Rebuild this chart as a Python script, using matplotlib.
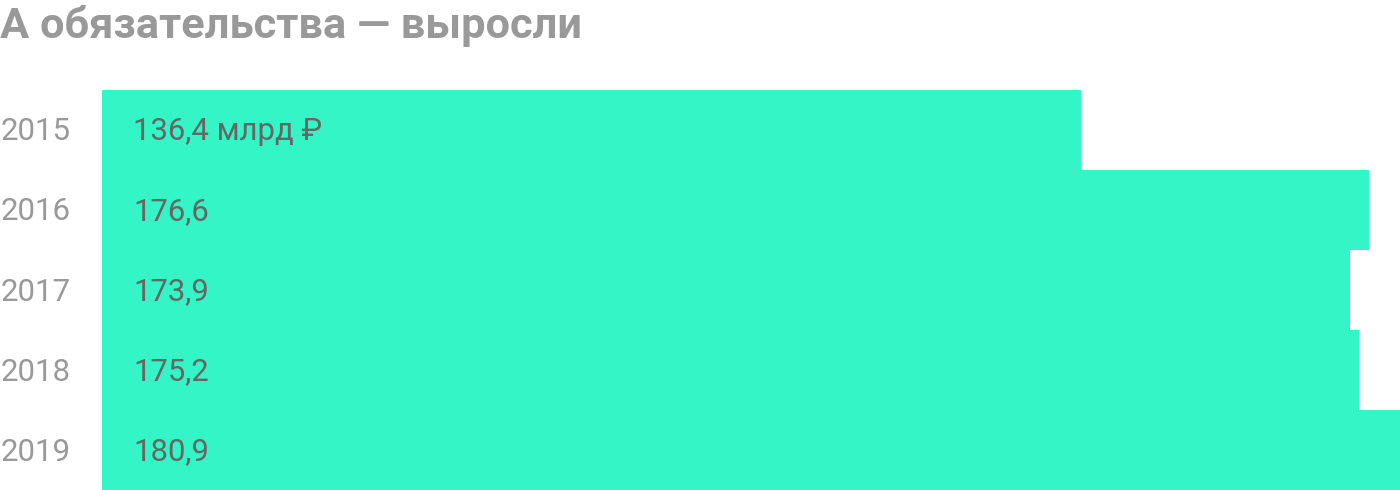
import matplotlib.pyplot as plt

years = ['2015', '2016', '2017', '2018', '2019']
values = [136.4, 176.6, 173.9, 175.2, 180.9]
labels = ['136,4 млрд ₽', '176,6', '173,9', '175,2', '180,9']

plt.rcParams['font.family'] = ['Roboto', 'DejaVu Sans']

fig = plt.figure(figsize=(14, 4.9), dpi=100)
ax = fig.add_axes([102 / 1400, 0, 1 - 102 / 1400, 400 / 490])

pos = range(len(years))
ax.barh(pos, values, height=1.0, color='#33f5c5', linewidth=0)
ax.set_xlim(0, max(values))
ax.set_ylim(len(years) - 0.5, -0.5)

for i, (y, lab) in enumerate(zip(years, labels)):
    base = 1 - (140.5 + 80 * i) / 490
    fig.text(133 / 1400, base, lab, va='baseline', ha='left',
             fontsize=22.3, color='#666666')
    fig.text(1 / 1400, base, y, va='baseline', ha='left',
             fontsize=22.5, color='#999999')

fig.text(0, 1 - 38 / 490, 'А обязательства — выросли', va='baseline', ha='left',
         fontsize=31.2, fontweight='bold', color='#999999')

ax.axis('off')
fig.savefig('out.png', dpi=100, facecolor='white')
